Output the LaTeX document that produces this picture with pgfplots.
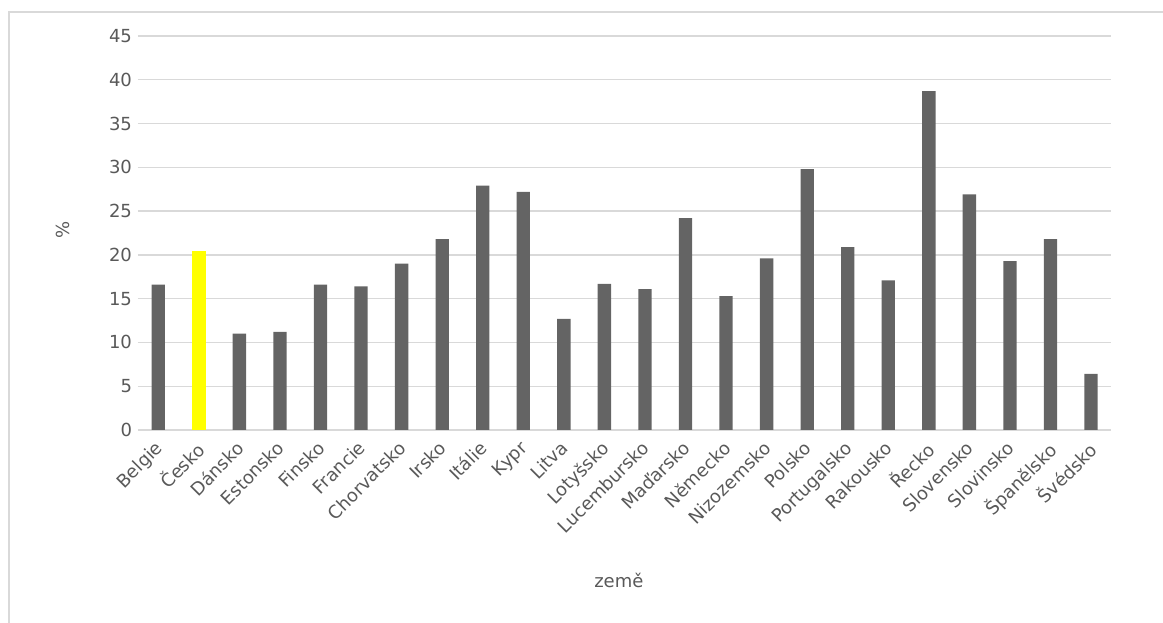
\documentclass[border=0pt]{standalone}
\usepackage{pgfplots}
\pgfplotsset{compat=1.18}
\usepackage{fontspec}
\setmainfont{DejaVu Sans}
\definecolor{txt}{HTML}{595959}
\definecolor{gridc}{HTML}{D9D9D9}
\definecolor{barc}{HTML}{646464}
\definecolor{hl}{HTML}{FFFF00}
\begin{document}
\begin{tikzpicture}[x=1pt,y=1pt]
\useasboundingbox (-103.5,-144.75) rectangle (768.75,322.5);
\draw[gridc,line width=1pt] (-96.75,-150) -- (-96.75,313.5) -- (780,313.5);
\begin{axis}[
  at={(0,0)}, anchor=south west,
  scale only axis, width=730pt, height=295.5pt,
  xmin=-0.5, xmax=23.5, ymin=0, ymax=45,
  ytick={0,5,...,45},
  xtick={0,...,23},
  xticklabels={Belgie,Česko,Dánsko,Estonsko,Finsko,Francie,Chorvatsko,Irsko,Itálie,Kypr,Litva,Lotyšsko,Lucembursko,Maďarsko,Německo,Nizozemsko,Polsko,Portugalsko,Rakousko,Řecko,Slovensko,Slovinsko,Španělsko,Švédsko},
  ymajorgrids, grid style={gridc,line width=1pt},
  axis line style={draw=none},
  major tick length=0pt,
  tick label style={font=\fontsize{13.5}{15}\selectfont, text=txt},
  /pgf/number format/assume math mode=true,
  xticklabel style={rotate=45, anchor=north east, xshift=-4pt, yshift=0.6pt},
  yticklabel style={xshift=-1pt},
  ylabel={\%}, xlabel={země},
  every axis y label/.style={at={(axis description cs:-0.077,0.508)}, rotate=90, anchor=center, font=\fontsize{13.5}{15}\selectfont, text=txt},
  every axis x label/.style={at={(axis description cs:0.494,-0.381)}, anchor=center, font=\fontsize{13.5}{15}\selectfont, text=txt},
  ybar, bar width=10pt, bar shift=0pt,
  clip=false,
]
\addplot[fill=barc, draw=none] coordinates {
(0,16.6) (2,11.0) (3,11.2) (4,16.6) (5,16.4) (6,19.0) (7,21.8) (8,27.9) (9,27.2)
(10,12.7) (11,16.7) (12,16.1) (13,24.2) (14,15.3) (15,19.6) (16,29.8) (17,20.9)
(18,17.1) (19,38.7) (20,26.9) (21,19.3) (22,21.8) (23,6.4)};
\addplot[fill=hl, draw=none] coordinates {(1,20.4)};
\end{axis}
\end{tikzpicture}
\end{document}
